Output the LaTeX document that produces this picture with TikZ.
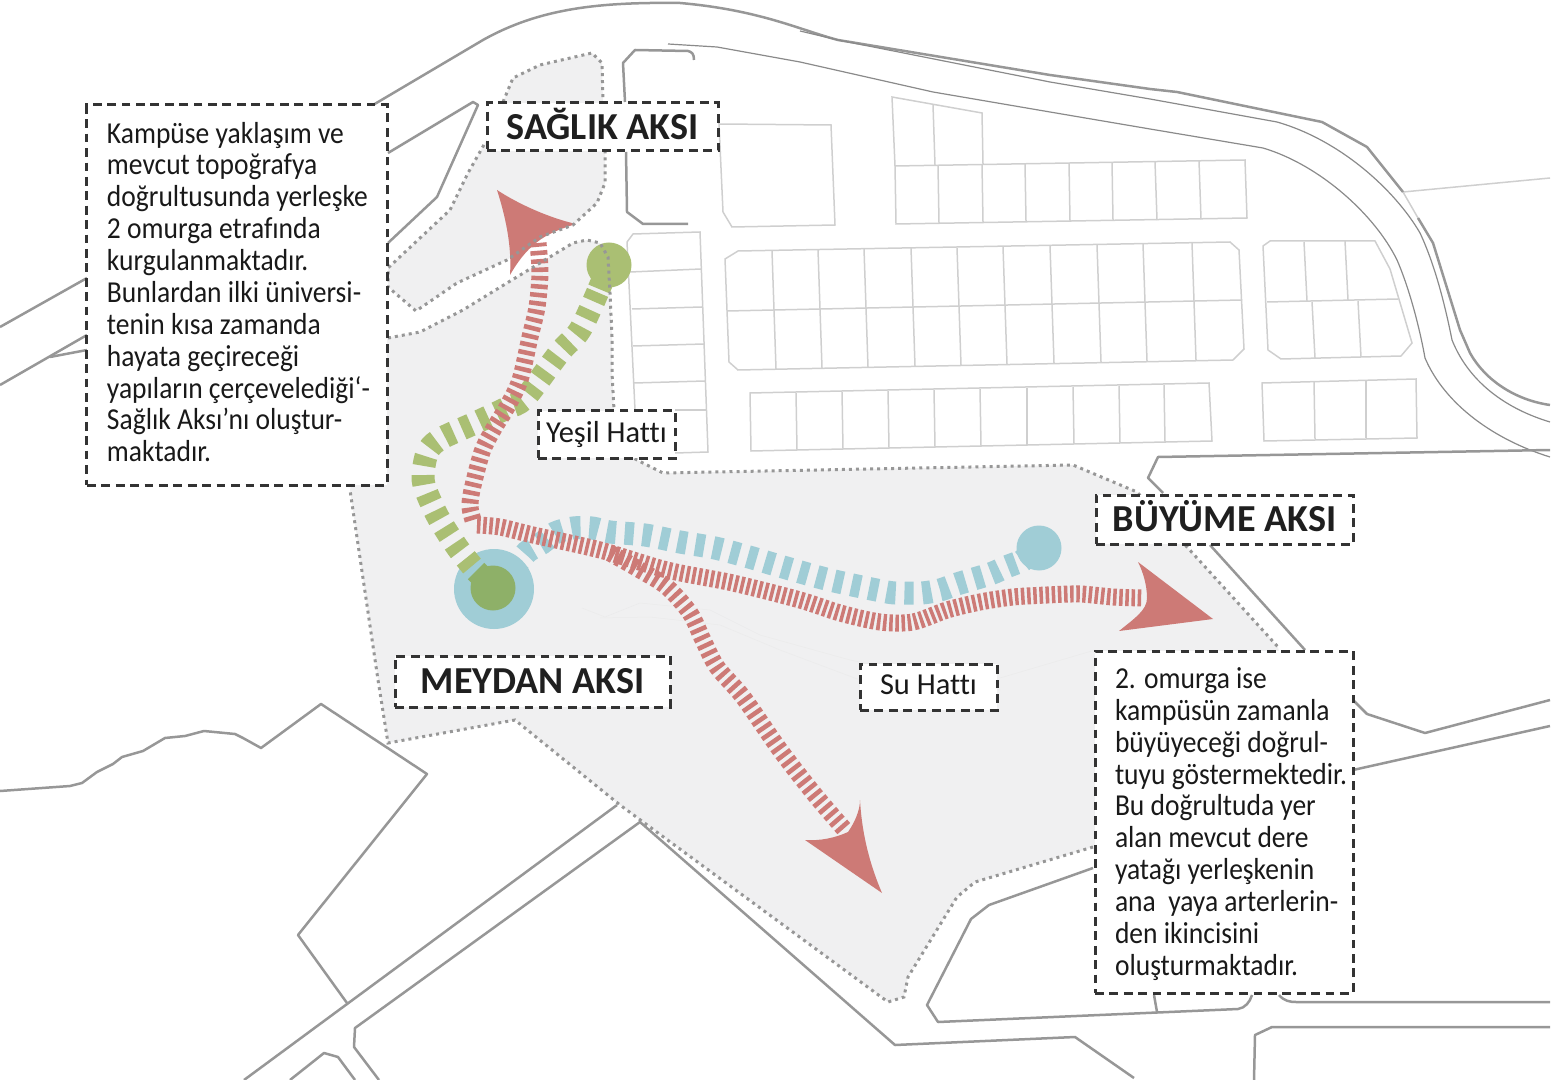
\documentclass[tikz,border=0pt]{standalone}
\usepackage{fontspec}
\setmainfont[Ligatures=NoCommon]{Carlito}
\newfontfamily\notefont[FakeStretch=.905,Ligatures=NoCommon]{Carlito}
\definecolor{areagrey}{HTML}{F0F0F1}
\definecolor{roadgrey}{HTML}{979797}
\definecolor{thingrey}{HTML}{8A8A8A}
\definecolor{plotgrey}{HTML}{CFCFCF}
\definecolor{boxdark}{HTML}{333333}
\definecolor{axisred}{HTML}{CD7A76}
\definecolor{waterblue}{HTML}{A0CDD6}
\definecolor{leafgreen}{HTML}{AABF73}
\definecolor{plazagreen}{HTML}{8EB068}
\tikzset{
  road/.style={draw=roadgrey,line width=.5mm,line join=round},
  thinroad/.style={draw=thingrey,line width=.24mm},
  plotline/.style={draw=plotgrey,line width=.3mm},
  contour/.style={draw=black!8,line width=.1mm},
  area/.style={fill=areagrey},
  areaedge/.style={draw=roadgrey,line width=.6mm,dash pattern=on 1.7pt off 2.3pt},
  boxed/.style={draw=boxdark,fill=white,line width=.6mm,dash pattern=on 5pt off 3.2pt,inner sep=0pt},
  title/.style={boxed,font=\fontsize{21.7}{24}\selectfont\bfseries,text=black!88,text height=14pt,text depth=0pt},
  label/.style={boxed,font=\fontsize{17.3}{20}\selectfont,text=black!90,text height=11pt,text depth=2pt},
  note/.style={boxed,font=\notefont\fontsize{17.3}{18.14}\selectfont,text=black!90},
  greenline/.style={draw=leafgreen,line width=4.6mm,dash pattern=on 5.6pt off 5.2pt},
  blueline/.style={draw=waterblue,line width=4.6mm,dash pattern=on 5.2pt off 5pt},
  redline/.style={draw=axisred,line width=3.4mm,dash pattern=on 2.6pt off 2.2pt},
  finered/.style={draw=axisred,line width=3.4mm,dash pattern=on 2pt off 1.5pt},
  head/.style={fill=axisred}
}
\begin{document}
\begin{tikzpicture}[x=.2mm,y=-.2mm]
\useasboundingbox (0,0) rectangle (1551,1080);
% grey campus areas
\path[area] (503,102)--(513,78)--(540,65)--(592,53)--(602,63)--(603,102)--(605,152)--(605,183)--(597,203)--(573,225)--(540,237)--(507,260)--(457,283)--(416,311)--(388,287)--(388,268)--(450,210)--(468,173)--(485,143)--cycle;
\path[area] (385,338)--(420,332)--(463,310)--(507,283)--(540,263)--(573,243)--(587,240)--(600,243)--(608,257)--(610,293)--(612,337)--(612,373)--(614,410)--(620,450)--(637,460)--(663,473)--(1073,465)--(1137,492)--(1187,547)--(1278,647)--(1300,760)--(1093,847)--(975,882)--(957,897)--(908,977)--(904,997)--(888,1002)--(620,805)--(515,720)--(388,743)--(378,680)--(350,490)--cycle;
% plots
\draw[plotline] (719,124)--(831,125)--(835,225)--(732,227)--(723,212)--cycle;
\draw[plotline] (895,166)--(892,97)--(982,113)--(983,164);
\draw[plotline] (933,105)--(935,165);
\draw[plotline] (895,166)--(1245,160)--(1247,218)--(896,224)--cycle;
\foreach \a/\b/\c/\d in {938/166/939/223,982/165/983/222,1025/164/1026/221,1069/163/1070/221,1112/163/1113/220,1155/162/1157/220,1199/161/1201/219}
  \draw[plotline] (\a,\b)--(\c,\d);
\draw[plotline] (627,242)--(633,234)--(700,232)--(708,452)--(675,453);
\draw[plotline] (627,242)--(635,410);
\draw[plotline] (675,410)--(707,410);
\foreach \a/\b/\c/\d in {630/272/701/269,632/309/702/307,633/346/704/344,634/383/705/381}
  \draw[plotline] (\a,\b)--(\c,\d);
\draw[plotline] (738,251)--(1230,242)--(1239,250)--(1244,349)--(1233,360)--(738,370)--(729,362)--(725,259)--cycle;
\draw[plotline] (727,311)--(1242,300);
\foreach \a/\b/\c/\d in {772/251/776/369,818/250/822/368,864/249/868/367,911/248/915/366,957/248/961/365,1003/247/1007/364,1050/246/1054/363,1097/245/1101/362,1143/244/1147/361,1192/243/1196/360}
  \draw[plotline] (\a,\b)--(\c,\d);
\draw[plotline] (750,393)--(1209,383)--(1212,441)--(751,451)--cycle;
\foreach \a/\b/\c/\d in {796/393/797/450,842/392/843/449,888/391/889/448,934/390/935/447,980/389/981/446,1027/388/1027/445,1073/387/1074/444,1119/386/1120/443,1164/385/1165/442}
  \draw[plotline] (\a,\b)--(\c,\d);
\draw[plotline] (1270,241)--(1375,241)--(1390,269)--(1412,343)--(1401,356)--(1281,359)--(1268,350)--(1263,246)--cycle;
\draw[plotline] (1267,302)--(1398,299);
\foreach \a/\b/\c/\d in {1304/242/1307/301,1345/241/1348/300,1312/302/1315/358,1358/301/1361/357,1314/382/1315/439,1366/381/1366/438}
  \draw[plotline] (\a,\b)--(\c,\d);
\draw[plotline] (1262,383)--(1416,379)--(1417,438)--(1264,441)--cycle;
\draw[plotline] (1403,192)--(1550,178);
\draw[plotline] (1403,192)--(1418,218);
% faint contours
\draw[contour] (582,608)--(605,617)--(640,603)--(710,610)--(760,635)--(850,660)--(1000,690);
\draw[contour] (600,618)--(650,617)--(720,625)--(780,650)--(860,680);
\draw[contour] (1000,678)--(1095,650);
% roads
\draw[road] (373,105)--(483,40) .. controls (540,8) and (600,2) .. (680,3) .. controls (760,10) and (800,30) .. (838,40)--(1050,75)--(1150,89)--(1177,92)--(1322,122)--(1367,147)--(1383,167)--(1403,192);
\draw[road] (1418,218)--(1433,243)--(1460,330)--(1470,353) .. controls (1485,380) and (1515,400) .. (1550,405);
\draw[thinroad] (800,31)--(838,40)--(1050,82)--(1150,99)--(1277,122) .. controls (1340,140) and (1395,190) .. (1420,233) .. controls (1435,265) and (1445,305) .. (1452,340) .. controls (1470,385) and (1510,410) .. (1550,422);
\draw[thinroad] (668,44)--(717,47)--(800,62)--(933,92)--(1050,112)--(1150,129)--(1263,148) .. controls (1320,165) and (1375,215) .. (1397,260) .. controls (1410,290) and (1420,330) .. (1425,358) .. controls (1445,405) and (1495,440) .. (1550,457);
\draw[road] (694,60) .. controls (694,54) and (692,52) .. (688,51)--(635,50)--(623,63)--(625,102);
\draw[road] (626,152)--(627,212)--(643,224)--(688,224);
\draw[road] (388,153)--(473,102)--(478,105)--(437,197)--(388,243);
\draw[road] (0,327)--(87,278);
\draw[road] (0,385)--(87,335);
\draw[road] (50,357)--(87,350);
\draw[road] (1550,450)--(1158,457)--(1148,478)--(1163,493);
\draw[road] (1210,545)--(1305,650);
\draw[road] (1353,700)--(1367,714)--(1425,733)--(1550,700);
\draw[road] (1353,770)--(1550,726);
\draw[road] (1093,868)--(989,905)--(971,919)--(927,1005)--(938,1022)--(1238,1009) .. controls (1245,1008) and (1250,1002) .. (1252,995);
\draw[road] (1154,995)--(1157,1012);
\draw[road] (1279,995) .. controls (1284,1001) and (1290,1002) .. (1296,1002)--(1550,1002);
\draw[road] (1550,1027)--(1272,1027)--(1255,1035)--(1254,1080);
\draw[road] (379,1080)--(354,1047)--(355,1028)--(640,822)--(895,1045)--(1075,1037)--(1134,1078);
\draw[road] (244,1080)--(617,805);
\draw[road] (290,1080)--(324,1053)--(338,1057)--(355,1080);
\draw[road] (0,791)--(70,786)--(82,783)--(97,772)--(113,764)--(122,757)--(143,751)--(165,738)--(185,736)--(204,731)--(235,734)--(243,738)--(261,748)--(321,704)--(427,774)--(298,935)--(347,1003);
% circles
\node[circle,fill=waterblue,minimum size=16mm,inner sep=0pt] (plaza) at (494,589) {};
\node[circle,fill=waterblue,minimum size=9mm,inner sep=0pt] (waterend) at (1039,548) {};
\node[circle,fill=leafgreen,minimum size=9mm,inner sep=0pt] (greenend) at (609,265) {};
\node[circle,fill=plazagreen,minimum size=9mm,inner sep=0pt] (plazacore) at (493,588) {};
\coordinate (greenstub) at (599,289);
\coordinate (corestub) at (476,571);
\coordinate (waterstub) at (1022,561);
\draw[draw=leafgreen,line width=4.6mm] (greenend.center)--(greenstub);
\draw[draw=plazagreen,line width=4.6mm] (plazacore.center)--(corestub);
\draw[draw=waterblue,line width=4.6mm] (waterend.center)--(waterstub);
% lines
\draw[blueline] plot[smooth,tension=.5] coordinates {(514,568) (527,552) (542,543) (555,533) (573,528) (592,528) (610,532) (645,535) (680,542) (715,548) (749,557) (783,567) (830,580) (887,592) (904,593) (922,593) (940,590) (957,584) (990,574) (1006,567) (waterstub)};
\draw[greenline] plot[smooth,tension=.5] coordinates {(472,566) (457,547) (438,517) (424,485) (424,466) (429,449) (442,438) (475,423) (507,408) (525,398) (560,352) (580,330) (greenstub)};
\draw[redline] plot[smooth,tension=.5] coordinates {(473,520) (470,507) (472,490) (482,452) (493,430) (507,407) (520,380) (530,337) (537,307) (540,273) (538,243)};
\draw[finered] plot[smooth,tension=.5] coordinates {(477,525) (500,527) (533,535) (600,550) (667,570) (733,583) (800,600) (840,613) (880,622) (913,622) (947,610) (980,602) (1013,597) (1047,595) (1080,594) (1113,597) (1143,598)};
\draw[redline] plot[smooth,tension=.5] coordinates {(610,553) (640,570) (667,587) (690,613) (703,640) (717,667) (743,697) (780,750) (815,795) (845,830)};
% arrow heads
\path[head] (497,190) .. controls (520,205) and (550,218) .. (576,224) .. controls (550,232) and (530,240) .. (510,275) .. controls (512,245) and (505,215) .. cycle;
\path[head] (1138,562)--(1213,619)--(1119,631) .. controls (1135,618) and (1147,610) .. (1147,598) .. controls (1147,585) and (1143,572) .. cycle;
\path[head] (882,893)--(805,840) .. controls (820,841) and (835,838) .. (848,832) .. controls (855,822) and (860,810) .. (860,800) .. controls (862,835) and (870,865) .. cycle;
% dotted edges
\draw[areaedge] (503,102)--(513,78)--(540,65)--(592,53)--(602,63)--(603,102)--(605,152)--(605,183)--(597,203)--(573,225)--(540,237)--(507,260)--(457,283)--(416,311)--(388,287)--(388,268)--(450,210)--(468,173)--(485,143);
\draw[areaedge] (388,338)--(420,332)--(463,310)--(507,283)--(540,263)--(573,243)--(587,240)--(600,243)--(608,257)--(610,293)--(612,337)--(612,373)--(614,410)--(620,450)--(637,460)--(663,473)--(1073,465)--(1137,492)--(1187,547)--(1278,647);
\draw[areaedge] (1093,847)--(975,882)--(957,897)--(908,977)--(904,997)--(888,1002)--(620,805)--(515,720)--(388,743)--(378,680)--(350,490);
% boxes
\node[note,minimum width=60mm,minimum height=76mm] (approach) at (237,295) {\hspace*{4mm}\parbox{56mm}{\raggedright Kampüse yaklaşım ve\\mevcut topoğrafya\\doğrultusunda yerleşke\\2 omurga etrafında\\kurgulanmaktadır.\\Bunlardan ilki üniversi-\\tenin kısa zamanda\\hayata geçireceği\\yapıların çerçevelediği‘-\\Sağlık Aksı’nı oluştur-\\maktadır.\par\vspace{3.4pt}}};
\node[note,minimum width=51.6mm,minimum height=68.4mm] (growth) at (1224,822) {\hspace*{4mm}\parbox{47.6mm}{\vspace*{2.3pt}\raggedright 2. omurga ise\\kampüsün zamanla\\büyüyeceği doğrul-\\tuyu göstermektedir.\\Bu doğrultuda yer\\alan mevcut dere\\yatağı yerleşkenin\\ana\ \ yaya arterlerin-\\den ikincisini\\oluşturmaktadır.}};
\node[title,minimum width=46.2mm,minimum height=9.6mm] (saglik) at (602.5,127) {SAĞLIK AKSI};
\node[title,minimum width=55mm,minimum height=10.2mm] (meydan) at (532.5,681.5) {MEYDAN AKSI};
\node[title,minimum width=51.4mm,minimum height=9.8mm] (buyume) at (1224.5,519.5) {BÜYÜME AKSI};
\node[label,minimum width=27.4mm,minimum height=9.4mm] (yesil) at (606.5,434.5) {Yeşil Hattı};
\node[label,minimum width=27.4mm,minimum height=9.2mm] (su) at (928.5,687) {Su Hattı};
\end{tikzpicture}
\end{document}
